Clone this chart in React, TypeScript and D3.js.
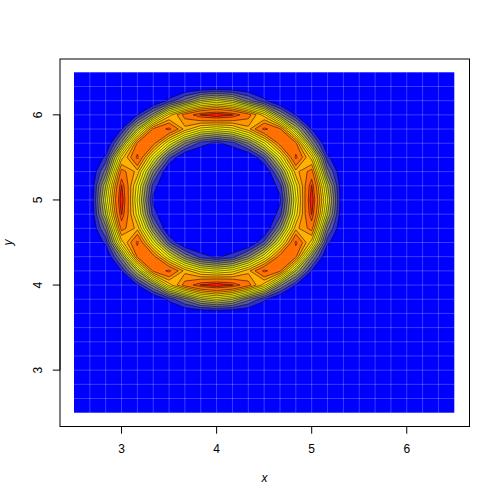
import React from "react";
import * as d3 from "d3";

const xTicks = [3, 4, 5, 6];
const yTicks = [3, 4, 5, 6];
const xGrid = d3.range(25).map((k) => 2.5 + k / 6);
const yGrid = d3.range(25).map((k) => 2.5 + k / 6);
const levels = [0.11, 0.18, 0.2425, 0.305, 0.3675, 0.43, 0.4925, 0.555, 0.6175, 0.68, 0.7425, 0.805, 0.9, 0.95];
const bandTones = [0.09, 0.17, 0.23, 0.29, 0.35, 0.41, 0.47, 0.53, 0.59, 0.65, 0.71, 0.78, 0.84, 0.96];
const rampStops = ["#0000ff", "#ffff00", "#ff0000"];
const O = [0, 0, 0, 0, 0, 0, 0, 0, 0, 0, 0, 0, 0, 0, 0, 0, 0, 0, 0, 0, 0, 0, 0, 0, 0];
// rows from y = 2.5 upward, columns from x = 2.5 rightward
const zRows = [
  O, O, O, O, O, O, O, O,
  [0,0,0,0,0,0,.13,.27,.43,.5,.43,.27,.13,0,0,0,0,0,0,0,0,0,0,0,0],
  [0,0,0,0,.11,.33,.646,.838,.958,1,.958,.838,.646,.33,.11,0,0,0,0,0,0,0,0,0,0],
  [0,0,0,.11,.43,.82,.923,.72,.59,.545,.59,.72,.923,.82,.43,.11,0,0,0,0,0,0,0,0,0],
  [0,0,0,.33,.82,.844,.545,.305,.147,.091,.147,.305,.545,.844,.82,.33,0,0,0,0,0,0,0,0,0],
  [0,0,.13,.646,.923,.545,.201,0,0,0,0,0,.201,.545,.923,.646,.13,0,0,0,0,0,0,0,0],
  [0,0,.27,.838,.72,.305,0,0,0,0,0,0,0,.305,.72,.838,.27,0,0,0,0,0,0,0,0],
  [0,0,.43,.958,.59,.147,0,0,0,0,0,0,0,.147,.59,.958,.43,0,0,0,0,0,0,0,0],
  [0,0,.5,1,.545,.091,0,0,0,0,0,0,0,.091,.545,1,.5,0,0,0,0,0,0,0,0],
  [0,0,.43,.958,.59,.147,0,0,0,0,0,0,0,.147,.59,.958,.43,0,0,0,0,0,0,0,0],
  [0,0,.27,.838,.72,.305,0,0,0,0,0,0,0,.305,.72,.838,.27,0,0,0,0,0,0,0,0],
  [0,0,.13,.646,.923,.545,.201,0,0,0,0,0,.201,.545,.923,.646,.13,0,0,0,0,0,0,0,0],
  [0,0,0,.33,.82,.844,.545,.305,.147,.091,.147,.305,.545,.844,.82,.33,0,0,0,0,0,0,0,0,0],
  [0,0,0,.11,.43,.82,.923,.72,.59,.545,.59,.72,.923,.82,.43,.11,0,0,0,0,0,0,0,0,0],
  [0,0,0,0,.11,.33,.646,.838,.958,1,.958,.838,.646,.33,.11,0,0,0,0,0,0,0,0,0,0],
  [0,0,0,0,0,0,.13,.27,.43,.5,.43,.27,.13,0,0,0,0,0,0,0,0,0,0,0,0],
  O, O,
];

const x = d3.scaleLinear().domain([2.5, 6.5]).range([74, 454.3]);
const y = d3.scaleLinear().domain([2.5, 6.5]).range([412.7, 72.3]);
const gx = d3.scaleLinear().domain([0, 24]).range([x(2.5), x(6.5)]);
const gy = d3.scaleLinear().domain([0, 24]).range([y(2.5), y(6.5)]);

const ramp = d3.scaleLinear<string>().domain([0, 0.5, 1]).range(rampStops).interpolate(d3.interpolateRgb as any);
const flat = zRows.flat();
const contours = d3.contours().size([25, 25]).thresholds(levels).smooth(true)(flat);
const path = d3.geoPath(
  d3.geoTransform({
    point(px: number, py: number) {
      (this as any).stream.point(gx(px - 0.5), gy(py - 0.5));
    },
  })
);

const font = "'Liberation Sans', Arial, Helvetica, sans-serif";

export default function App() {
  return (
    <svg width={500} height={500} style={{ position: "absolute", left: 0, top: 0 }} fontFamily={font}>
      <rect x={0} y={0} width={500} height={500} fill="#fff" />
      <rect x={x(2.5)} y={y(6.5)} width={x(6.5) - x(2.5)} height={y(2.5) - y(6.5)} fill={ramp(0)} />
      {xGrid.slice(1, -1).map((v) => (
        <line key={v} x1={x(v)} x2={x(v)} y1={y(2.5)} y2={y(6.5)} stroke="#fff" strokeOpacity={0.2} strokeWidth={1} />
      ))}
      {yGrid.slice(1, -1).map((v) => (
        <line key={v} x1={x(2.5)} x2={x(6.5)} y1={y(v)} y2={y(v)} stroke="#fff" strokeOpacity={0.2} strokeWidth={1} />
      ))}
      {contours.map((c, k) => (
        <path
          key={k}
          d={path(c as any) || ""}
          fill={ramp(bandTones[k])}
          stroke="#000"
          strokeOpacity={0.8}
          strokeWidth={0.65}
          strokeLinejoin="round"
        />
      ))}
      {xGrid.slice(1, -1).map((v) => (
        <line key={v} x1={x(v)} x2={x(v)} y1={y(2.5)} y2={y(6.5)} stroke="#fff" strokeOpacity={0.05} strokeWidth={1} />
      ))}
      {yGrid.slice(1, -1).map((v) => (
        <line key={v} x1={x(2.5)} x2={x(6.5)} y1={y(v)} y2={y(v)} stroke="#fff" strokeOpacity={0.05} strokeWidth={1} />
      ))}
      <rect x={60} y={59} width={409.5} height={367.5} fill="none" stroke="#000" strokeWidth={1} />
      <g stroke="#000" strokeWidth={1}>
        <line x1={x(3)} x2={x(6)} y1={426.5} y2={426.5} />
        {xTicks.map((t) => (
          <line key={t} x1={x(t)} x2={x(t)} y1={426.5} y2={433.7} />
        ))}
        <line x1={60} x2={60} y1={y(3)} y2={y(6)} />
        {yTicks.map((t) => (
          <line key={t} x1={60} x2={52.8} y1={y(t)} y2={y(t)} />
        ))}
      </g>
      <g fontSize={12} fill="#000" textAnchor="middle">
        {xTicks.map((t) => (
          <text key={t} x={x(t)} y={453}>{t}</text>
        ))}
        {yTicks.map((t) => (
          <text key={t} transform={`translate(42,${y(t)}) rotate(-90)`}>{t}</text>
        ))}
        <text x={264.5} y={482} fontStyle="italic">x</text>
        <text transform={`translate(12,${242.5}) rotate(-90)`} fontStyle="italic">y</text>
      </g>
    </svg>
  );
}
